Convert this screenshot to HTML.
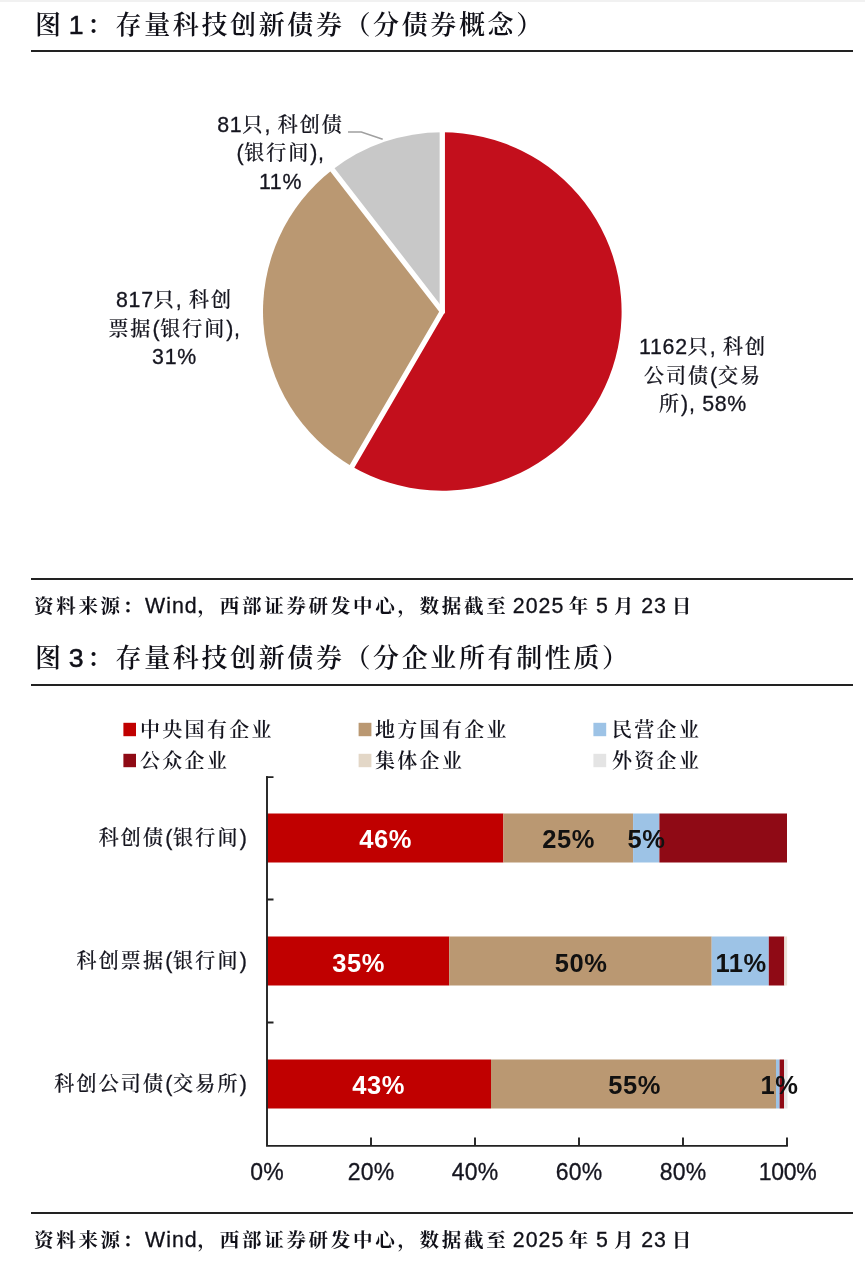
<!DOCTYPE html>
<html lang="zh-CN">
<head>
<meta charset="utf-8">
<title>存量科技创新债券</title>
<style>
html,body{margin:0;padding:0;background:#fff;}
body{width:865px;height:1276px;position:relative;overflow:hidden;
  font-family:"Liberation Sans","Noto Serif CJK SC",sans-serif;color:#111;}
.abs{position:absolute;white-space:nowrap;}
.rule{position:absolute;left:31.2px;width:821.8px;height:1.8px;background:#222;}
.title{left:35px;font-size:26px;line-height:30px;letter-spacing:2.62px;color:#101018;font-weight:600;}
.title .n{letter-spacing:0;font-size:26.6px;font-weight:400;-webkit-text-stroke:0.5px #101018;margin:0 3.5px 0 -4.85px;}
.src{left:34px;font-size:19.5px;line-height:24px;letter-spacing:2.7px;font-weight:700;color:#101018;}
.src .n{letter-spacing:1px;font-size:21.33px;font-weight:400;-webkit-text-stroke:0.3px #101018;}
.plab{-webkit-text-stroke:0.2px #15151f;font-size:20px;line-height:28.6px;text-align:center;letter-spacing:2px;color:#15151f;font-weight:500;}
.plab .n{letter-spacing:0.7px;font-size:21.33px;font-weight:400;-webkit-text-stroke:0.3px #15151f;}
.leg{font-size:20px;line-height:24px;letter-spacing:2.3px;color:#15151f;font-weight:600;}
.cat{-webkit-text-stroke:0.2px #15151f;font-size:20px;line-height:24px;letter-spacing:2.2px;text-align:right;color:#15151f;font-weight:500;}
.cat .n{letter-spacing:0.7px;font-size:21.33px;font-weight:400;-webkit-text-stroke:0.3px #15151f;}
.tick{font-size:23px;line-height:24px;text-align:center;width:80px;color:#15151f;letter-spacing:0.15px;-webkit-text-stroke:0.3px #15151f;}
.val{font-size:25.5px;line-height:26px;font-weight:bold;text-align:center;width:80px;color:#111;letter-spacing:0.6px;}
.val.w{color:#fff;}
</style>
</head>
<body>
<div class="abs" style="left:0;top:0;width:865px;height:1.5px;background:#f1f1f1"></div>

<!-- Figure 1 -->
<div class="abs title" style="top:10px">图 <span class="n">1</span>：存量科技创新债券（分债券概念）</div>
<div class="rule" style="top:50.2px"></div>

<svg class="abs" style="left:0;top:0" width="865" height="1276" viewBox="0 0 865 1276">
  <!-- pie -->
  <path fill="#c30f1c" d="M442.3,311.5 L442.30,132.20 A179.3,179.3 0 1 1 352.00,466.40 Z"/>
  <path fill="#ba9872" d="M442.3,311.5 L352.00,466.40 A179.3,179.3 0 0 1 332.41,169.83 Z"/>
  <path fill="#c8c8c8" d="M442.3,311.5 L332.41,169.83 A179.3,179.3 0 0 1 442.30,132.20 Z"/>
  <g stroke="#fff" stroke-width="5.3" stroke-linecap="round">
    <line x1="442.3" y1="311.5" x2="442.30" y2="128.20"/>
    <line x1="442.3" y1="311.5" x2="349.99" y2="469.86"/>
    <line x1="442.3" y1="311.5" x2="329.95" y2="166.66"/>
  </g>
  <polyline points="348,132 361.3,132 382.7,139.2" fill="none" stroke="#a0a0a0" stroke-width="1.6"/>
</svg>

<div class="abs plab" style="left:180.5px;top:110.7px;width:200px"><span class="n">81</span>只<span class="n">, </span>科创债<br><span class="n">(</span>银行间<span class="n">),</span><br><span class="n">11%</span></div>
<div class="abs plab" style="left:74.5px;top:286px;width:200px"><span class="n">817</span>只<span class="n">, </span>科创<br>票据<span class="n">(</span>银行间<span class="n">),</span><br><span class="n">31%</span></div>
<div class="abs plab" style="left:603px;top:333px;width:200px"><span class="n">1162</span>只<span class="n">, </span>科创<br>公司债<span class="n">(</span>交易<br>所<span class="n">), 58%</span></div>

<div class="rule" style="top:578.2px"></div>
<div class="abs src" style="top:594px">资料来源：<span class="n">Wind</span>，西部证券研发中心，数据截至<span class="n" style="word-spacing:-2.5px"> 2025 </span>年<span class="n" style="word-spacing:-1.8px"> 5 </span>月<span class="n" style="word-spacing:-2px"> 23 </span>日</div>

<!-- Figure 3 -->
<div class="abs title" style="top:643px">图 <span class="n">3</span>：存量科技创新债券（分企业所有制性质）</div>
<div class="rule" style="top:683.8px;height:2px"></div>


<svg class="abs" style="left:0;top:690px" width="865" height="520" viewBox="0 690 865 520">
  <!-- legend swatches -->
  <rect x="123.4" y="722.8" width="12.6" height="13.4" fill="#c00000"/>
  <rect x="358.6" y="722.8" width="12.8" height="13.4" fill="#ba9872"/>
  <rect x="593.4" y="722.8" width="12.8" height="13.4" fill="#9dc3e6"/>
  <rect x="123.4" y="753.8" width="12.6" height="13.4" fill="#8f0a15"/>
  <rect x="358.6" y="753.8" width="12.8" height="13.4" fill="#e3d7c7"/>
  <rect x="593.4" y="753.8" width="12.8" height="13.4" fill="#e4e4e4"/>
  <!-- bars -->
  <g>
    <rect x="267" y="813.5" width="236.4" height="49" fill="#c00000"/>
    <rect x="503.4" y="813.5" width="129.7" height="49" fill="#ba9872"/>
    <rect x="633.1" y="813.5" width="26.3" height="49" fill="#9dc3e6"/>
    <rect x="659.4" y="813.5" width="127.6" height="49" fill="#8f0a15"/>
  </g>
  <g>
    <rect x="267" y="936.5" width="182.2" height="49" fill="#c00000"/>
    <rect x="449.2" y="936.5" width="262.5" height="49" fill="#ba9872"/>
    <rect x="711.7" y="936.5" width="57.1" height="49" fill="#9dc3e6"/>
    <rect x="768.8" y="936.5" width="15.5" height="49" fill="#8f0a15"/>
    <rect x="784.3" y="936.5" width="2.8" height="49" fill="#ebe2d6"/>
  </g>
  <g>
    <rect x="267" y="1059.5" width="224" height="49" fill="#c00000"/>
    <rect x="491" y="1059.5" width="285" height="49" fill="#ba9872"/>
    <rect x="776" y="1059.5" width="3.6" height="49" fill="#9dc3e6"/>
    <rect x="779.6" y="1059.5" width="4.4" height="49" fill="#8f0a15"/>
    <rect x="784" y="1059.5" width="3.5" height="49" fill="#e6e6e6"/>
  </g>
  <!-- axes -->
  <g stroke="#222" stroke-width="1.9" fill="none">
    <path d="M267,776.2 V1145.9 H787.9"/>
    <path d="M266.05,777.1 H273.5 M267,899.5 H273.5 M267,1022.5 H273.5"/>
    <path d="M371,1145.9 V1137.6 M475,1145.9 V1137.6 M579,1145.9 V1137.6 M683,1145.9 V1137.6 M787,1145.9 V1137.6"/>
  </g>
</svg>

<div class="abs leg" style="left:140px;top:717.5px">中央国有企业</div>
<div class="abs leg" style="left:375px;top:717.5px">地方国有企业</div>
<div class="abs leg" style="left:612px;top:717.5px">民营企业</div>
<div class="abs leg" style="left:140px;top:748.5px">公众企业</div>
<div class="abs leg" style="left:375px;top:748.5px">集体企业</div>
<div class="abs leg" style="left:612px;top:748.5px">外资企业</div>

<div class="abs cat" style="right:617.5px;top:826px">科创债<span class="n">(</span>银行间<span class="n">)</span></div>
<div class="abs cat" style="right:617.5px;top:949px">科创票据<span class="n">(</span>银行间<span class="n">)</span></div>
<div class="abs cat" style="right:617.5px;top:1072px">科创公司债<span class="n">(</span>交易所<span class="n">)</span></div>

<div class="abs val w" style="left:345.6px;top:826px">46%</div>
<div class="abs val" style="left:528.6px;top:826px">25%</div>
<div class="abs val" style="left:606.6px;top:826px">5%</div>
<div class="abs val w" style="left:318.6px;top:949.5px">35%</div>
<div class="abs val" style="left:541.1px;top:949.5px">50%</div>
<div class="abs val" style="left:701.1px;top:949.5px">11%</div>
<div class="abs val w" style="left:338.6px;top:1071.5px">43%</div>
<div class="abs val" style="left:594.6px;top:1071.5px">55%</div>
<div class="abs val" style="left:739.6px;top:1071.5px">1%</div>

<div class="abs tick" style="left:227px;top:1159.6px">0%</div>
<div class="abs tick" style="left:331px;top:1159.6px">20%</div>
<div class="abs tick" style="left:435px;top:1159.6px">40%</div>
<div class="abs tick" style="left:539px;top:1159.6px">60%</div>
<div class="abs tick" style="left:643px;top:1159.6px">80%</div>
<div class="abs tick" style="left:747.5px;top:1159.6px;letter-spacing:-0.3px">100%</div>

<div class="rule" style="top:1211.8px;height:2px"></div>
<div class="abs src" style="top:1227.5px">资料来源：<span class="n">Wind</span>，西部证券研发中心，数据截至<span class="n" style="word-spacing:-2.5px"> 2025 </span>年<span class="n" style="word-spacing:-1.8px"> 5 </span>月<span class="n" style="word-spacing:-2px"> 23 </span>日</div>
</body>
</html>
